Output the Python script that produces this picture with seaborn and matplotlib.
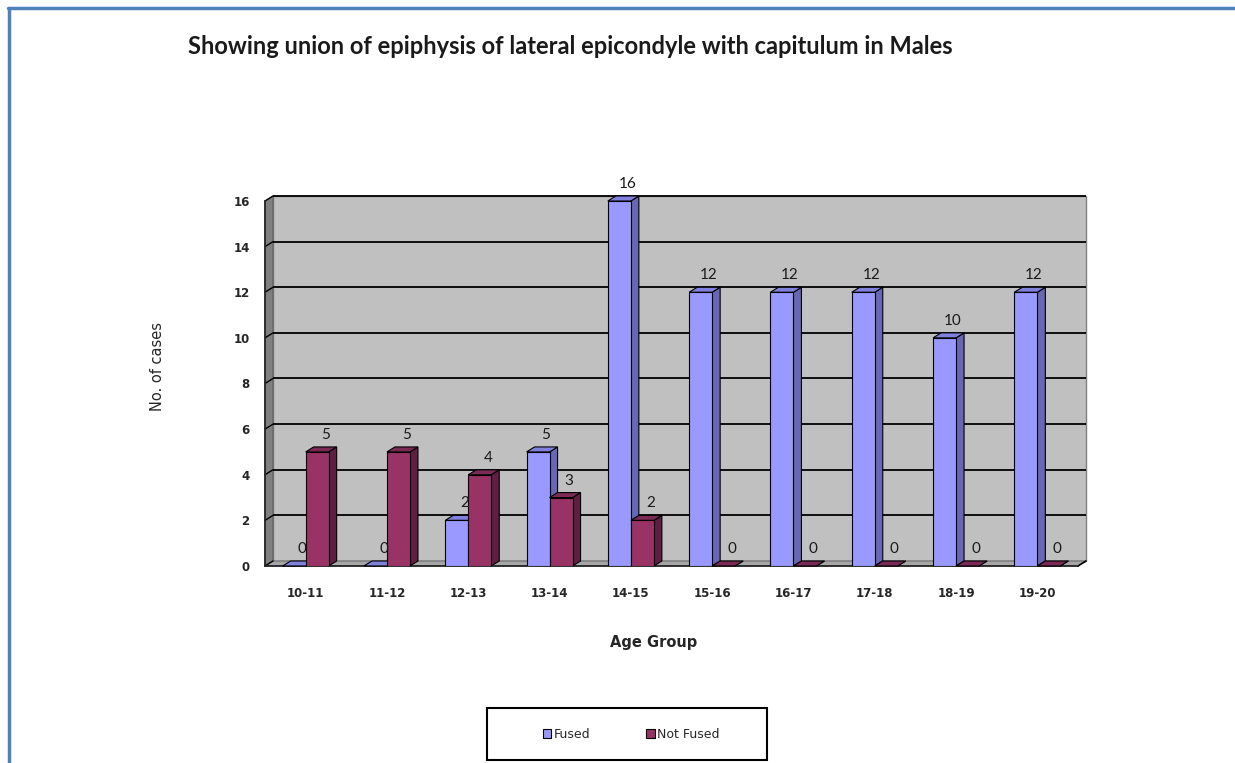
import pandas as pd
import seaborn as sns
import matplotlib.pyplot as plt
import numpy as np
from matplotlib.patches import Polygon, Rectangle, Patch
from matplotlib.lines import Line2D
from matplotlib.transforms import ScaledTranslation, IdentityTransform

# Data
age_groups = ["10-11", "11-12", "12-13", "13-14", "14-15",
              "15-16", "16-17", "17-18", "18-19", "19-20"]
fused = [0, 0, 2, 5, 16, 12, 12, 12, 10, 12]
not_fused = [5, 5, 4, 3, 2, 0, 0, 0, 0, 0]
series = ["Fused", "Not Fused"]

df = pd.DataFrame({
    "Age Group": age_groups * 2,
    "cases": fused + not_fused,
    "status": [series[0]] * len(age_groups) + [series[1]] * len(age_groups),
})

front_cols = {"Fused": "#9999FF", "Not Fused": "#993366"}
side_cols = {"Fused": "#6767B5", "Not Fused": "#5E1F42"}
top_cols = {"Fused": "#8080DD", "Not Fused": "#7A2A54"}

sns.set_style("white")
W, H, DPI = 1235, 763, 100
fig = plt.figure(figsize=(W / DPI, H / DPI), dpi=DPI)
ax = fig.add_axes([265 / W, 1 - 566 / H, (1078 - 265) / W, (566 - 201) / H])
ax.set_facecolor("none")

sns.barplot(data=df, x="Age Group", y="cases", hue="status",
            palette=[front_cols[s] for s in series], width=0.566,
            saturation=1, edgecolor="black", linewidth=0.8,
            legend=False, ax=ax)

ax.set_xlim(-0.5, len(age_groups) - 0.5)
ax.set_ylim(0, 16)
yt = np.arange(0, 17, 2)

# 3d depth in pixels
dx, dy = 8, 5
off = ax.transData + ScaledTranslation(dx / DPI, dy / DPI, fig.dpi_scale_trans)
x0, x1 = ax.get_xlim()
idt = IdentityTransform()

# back wall and grid lines
ax.add_patch(Rectangle((x0, 0), x1 - x0, 16, transform=off, facecolor="#C0C0C0",
                       edgecolor="#7F7F7F", lw=1.0, zorder=0.2, clip_on=False))
ax.hlines(yt[1:], x0, x1, transform=off, colors="black", lw=1.3, zorder=0.5, clip_on=False)

pa = ax.transData.transform([(x0, 0), (x0, 16), (x1, 0)])
# left wall
ax.add_artist(Polygon([pa[0], pa[1], pa[1] + [dx, dy], pa[0] + [dx, dy]],
                      closed=True, transform=idt, facecolor="#808080",
                      edgecolor="#555555", lw=0.6, zorder=0.3, clip_on=False))
# floor
ax.add_artist(Polygon([pa[0], pa[2], pa[2] + [dx, dy], pa[0] + [dx, dy]],
                      closed=True, transform=idt, facecolor="#A6A6A6",
                      edgecolor="#555555", lw=0.6, zorder=0.3, clip_on=False))
# little connectors from ticks into the wall
for v in yt:
    p = ax.transData.transform((x0, v))
    ax.add_artist(Line2D([p[0], p[0] + dx], [p[1], p[1] + dy], transform=idt,
                         color="black", lw=1.0, zorder=0.6, clip_on=False))
ax.add_artist(Line2D([pa[2][0], pa[2][0] + dx], [pa[2][1], pa[2][1] + dy],
                     transform=idt, color="black", lw=1.2, zorder=1, clip_on=False))

# 3d sides/tops of the bars
bars = [p for p in ax.patches if isinstance(p, Rectangle) and p.get_width() < 1]
bars.sort(key=lambda b: b.get_x())
fused_rgb = plt.matplotlib.colors.to_rgb(front_cols["Fused"])
for i, b in enumerate(bars):
    name = "Fused" if np.allclose(b.get_facecolor()[:3], fused_rgb) else "Not Fused"
    z = 2 + i * 0.1
    b.set_zorder(z + 0.05)
    bx, bw, bh = b.get_x(), b.get_width(), b.get_height()
    ll, lr, tl, tr = ax.transData.transform([(bx, 0), (bx + bw, 0), (bx, bh), (bx + bw, bh)])
    side = Polygon([lr, tr, tr + [dx, dy], lr + [dx, dy]], closed=True, transform=idt,
                   facecolor=side_cols[name], edgecolor="black", lw=0.8, zorder=z,
                   clip_on=False)
    top = Polygon([tl, tr, tr + [dx, dy], tl + [dx, dy]], closed=True, transform=idt,
                  facecolor=top_cols[name], edgecolor="black", lw=0.8, zorder=z,
                  clip_on=False)
    ax.add_artist(side)
    ax.add_artist(top)
    ax.annotate(f"{int(round(bh))}", xy=(bx + bw / 2, bh), xytext=(8, 17),
                textcoords="offset pixels", ha="center", va="center",
                fontsize=11, family="Lato", color="#1a1a1a", zorder=10)

# axes styling
for s in ["top", "right"]:
    ax.spines[s].set_visible(False)
ax.spines["left"].set_linewidth(1.3)
ax.spines["bottom"].set_linewidth(1.3)
ax.spines["left"].set_zorder(1)
ax.spines["bottom"].set_zorder(1)
ax.set_yticks(yt)
ax.set_yticklabels([str(v) for v in yt], fontsize=8.5, fontweight="bold")
ax.set_xticks(range(len(age_groups)))
ax.set_xticklabels(age_groups, fontsize=8.5, fontweight="bold")
ax.set_xticks(np.arange(-0.5, len(age_groups), 1), minor=True)
ax.tick_params(axis="x", which="major", length=0, pad=15)
ax.tick_params(axis="x", which="minor", length=5, width=1.2, direction="out")
ax.tick_params(axis="y", length=5, width=1.2, direction="out", pad=6)
ax.set_xlabel("")
ax.set_ylabel("")

fig.text(157 / W, 1 - 366 / H, "No. of cases", rotation=90, ha="center", va="center",
         fontsize=10.5)
fig.text(654 / W, 1 - 642 / H, "Age Group", ha="center", va="center",
         fontsize=10.5, fontweight="bold")
fig.text(188 / W, 1 - 46 / H,
         "Showing union of epiphysis of lateral epicondyle with capitulum in Males",
         ha="left", va="center", fontsize=17, fontweight="bold", family="Lato",
         color="#1a1a1a")

# legend box
fig.patches.append(Rectangle((487 / W, 1 - 760 / H), 280 / W, 52 / H,
                             transform=fig.transFigure, fill=False,
                             edgecolor="black", lw=1.5))
handles = [Patch(facecolor=front_cols[s], edgecolor="black", lw=0.8) for s in series]
fig.legend(handles, series, loc="center", bbox_to_anchor=(631 / W, 1 - 734 / H),
           ncol=2, frameon=False, fontsize=9, handlelength=0.7, handleheight=0.7,
           handletextpad=0.15, columnspacing=4.5)

# outer blue border
fig.lines.append(Line2D([8 / W, 1], [1 - 8 / H, 1 - 8 / H], transform=fig.transFigure,
                        color="#4F81BD", lw=2.5))
fig.lines.append(Line2D([9 / W, 9 / W], [0, 1 - 8 / H], transform=fig.transFigure,
                        color="#4F81BD", lw=2.5))

fig.savefig("out.png", dpi=DPI)
plt.close(fig)
